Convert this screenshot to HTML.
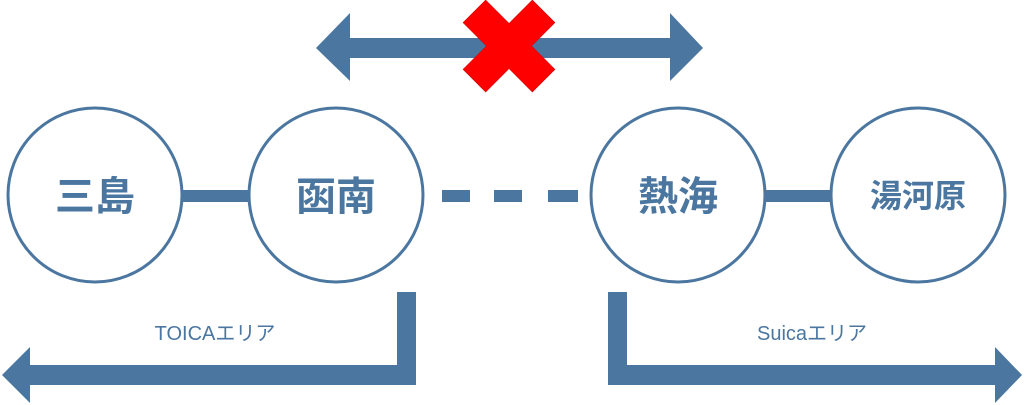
<!DOCTYPE html>
<html><head><meta charset="utf-8"><style>
html,body{margin:0;padding:0;background:#fff;}
svg{display:block}
text{font-family:"Liberation Sans","Noto Sans CJK JP",sans-serif;fill:#4a76a0;}
</style></head><body>
<svg width="1024" height="405" viewBox="0 0 1024 405" xmlns="http://www.w3.org/2000/svg">
<g fill="#4a76a0">
<polygon points="316,48 350,13 350,38 670,38 670,13 703,48 670,81 670,58 350,58 350,81"/>
<rect x="182" y="190" width="66" height="12"/>
<rect x="766" y="190" width="66" height="12"/>
<rect x="442" y="190" width="28" height="12"/>
<rect x="494" y="190" width="28" height="12"/>
<rect x="548" y="190" width="30" height="12"/>
<polygon points="397,292 416,292 416,385 30,385 30,403 2,375 30,347 30,365 397,365"/>
<polygon points="608,292 627,292 627,365 995,365 995,347 1022,375 995,403 995,385 608,385"/>
</g>
<g transform="translate(509,46) rotate(45)" fill="#ff0000" stroke="#d00000" stroke-width="0.5">
<polygon points="-16,-49 16,-49 16,-16 49,-16 49,16 16,16 16,49 -16,49 -16,16 -49,16 -49,-16 -16,-16"/>
</g>
<g fill="#fff" stroke="#4a76a0" stroke-width="3">
<circle cx="95" cy="195" r="87"/>
<circle cx="336" cy="195" r="87"/>
<circle cx="678" cy="195" r="87"/>
<circle cx="918" cy="195" r="87"/>
</g>
<g font-weight="bold">
<text x="95" y="210" font-size="40" text-anchor="middle">三島</text>
<text x="336" y="210" font-size="40" text-anchor="middle">函南</text>
<text x="678" y="210" font-size="40" text-anchor="middle">熱海</text>
<text x="918" y="207" font-size="32" text-anchor="middle">湯河原</text>
</g>
<text x="215" y="340" font-size="20" text-anchor="middle">TOICAエリア</text>
<text x="812" y="340" font-size="20" text-anchor="middle">Suicaエリア</text>
</svg>
</body></html>
